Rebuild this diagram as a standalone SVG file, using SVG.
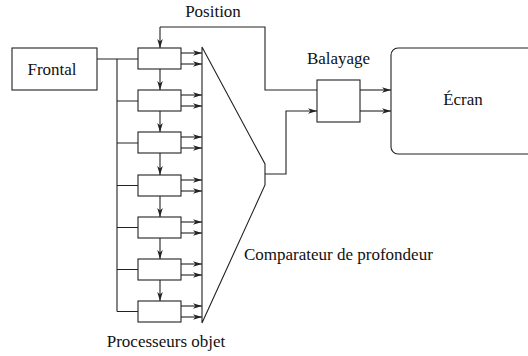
<svg xmlns="http://www.w3.org/2000/svg" width="528" height="356" viewBox="0 0 528 356">
<defs>
<marker id="ah" markerUnits="userSpaceOnUse" markerWidth="10" markerHeight="8" refX="9" refY="4" orient="auto">
<path d="M0,1.2 L9,4 L0,6.8 L2.5,4 Z" fill="#222"/>
</marker>
<style>
.ln{fill:none;stroke:#222;stroke-width:1.1}
.ar{fill:none;stroke:#222;stroke-width:1.1;marker-end:url(#ah)}
.bx{fill:#fff;stroke:#222;stroke-width:1.1}
text{font-family:"Times New Roman","Liberation Serif","Nimbus Roman","DejaVu Serif",serif;font-size:17px;fill:#111}
</style>
</defs>
<rect width="528" height="356" fill="#fff"/>
<g id="connectors">
<path class="ln" d="M97,59 H138 M117,59 V311.5 M117,101 H138 M117,143 H138 M117,185.5 H138 M117,227.5 H138 M117,269.5 H138 M117,311.5 H138"/>
<path class="ar" d="M160,27 V48"/>
<path class="ln" d="M160,27 H265 V90 H317"/>
<path class="ar" d="M160,69 V90"/>
<path class="ar" d="M160,111 V132"/>
<path class="ar" d="M160,153 V175"/>
<path class="ar" d="M160,196 V217"/>
<path class="ar" d="M160,238 V259"/>
<path class="ar" d="M160,280 V301"/>
<path class="ar" d="M181,53 H202"/><path class="ar" d="M181,64 H202"/>
<path class="ar" d="M181,95 H202"/><path class="ar" d="M181,106 H202"/>
<path class="ar" d="M181,137 H202"/><path class="ar" d="M181,148 H202"/>
<path class="ar" d="M181,180 H202"/><path class="ar" d="M181,191 H202"/>
<path class="ar" d="M181,222 H202"/><path class="ar" d="M181,233 H202"/>
<path class="ar" d="M181,264 H202"/><path class="ar" d="M181,275 H202"/>
<path class="ar" d="M181,306 H202"/><path class="ar" d="M181,317 H202"/>
<path class="ar" d="M265,174 H286 V111 H317"/>
<path class="ar" d="M360,90 H391"/>
<path class="ar" d="M360,111 H391"/>
</g>
<g id="comparateur">
<path class="ln" d="M202,47 V323 L265,185 V164 Z"/>
<text x="244" y="260">Comparateur de profondeur</text>
</g>
<g id="frontal">
<rect class="bx" x="12" y="48" width="85" height="42"/>
<text x="52" y="75" text-anchor="middle">Frontal</text>
</g>
<g id="processeurs">
<rect class="bx" x="138" y="48" width="43" height="21"/>
<rect class="bx" x="138" y="90" width="43" height="21"/>
<rect class="bx" x="138" y="132" width="43" height="21"/>
<rect class="bx" x="138" y="175" width="43" height="21"/>
<rect class="bx" x="138" y="217" width="43" height="21"/>
<rect class="bx" x="138" y="259" width="43" height="21"/>
<rect class="bx" x="138" y="301" width="43" height="21"/>
<text x="166" y="347" text-anchor="middle">Processeurs objet</text>
</g>
<g id="position">
<text x="213" y="17" text-anchor="middle">Position</text>
</g>
<g id="balayage">
<rect class="bx" x="317" y="80" width="43" height="42"/>
<text x="338.5" y="64" text-anchor="middle">Balayage</text>
</g>
<g id="ecran">
<rect class="bx" x="391" y="48" width="150" height="106" rx="7"/>
<text x="463" y="105" text-anchor="middle">Écran</text>
</g>
</svg>
